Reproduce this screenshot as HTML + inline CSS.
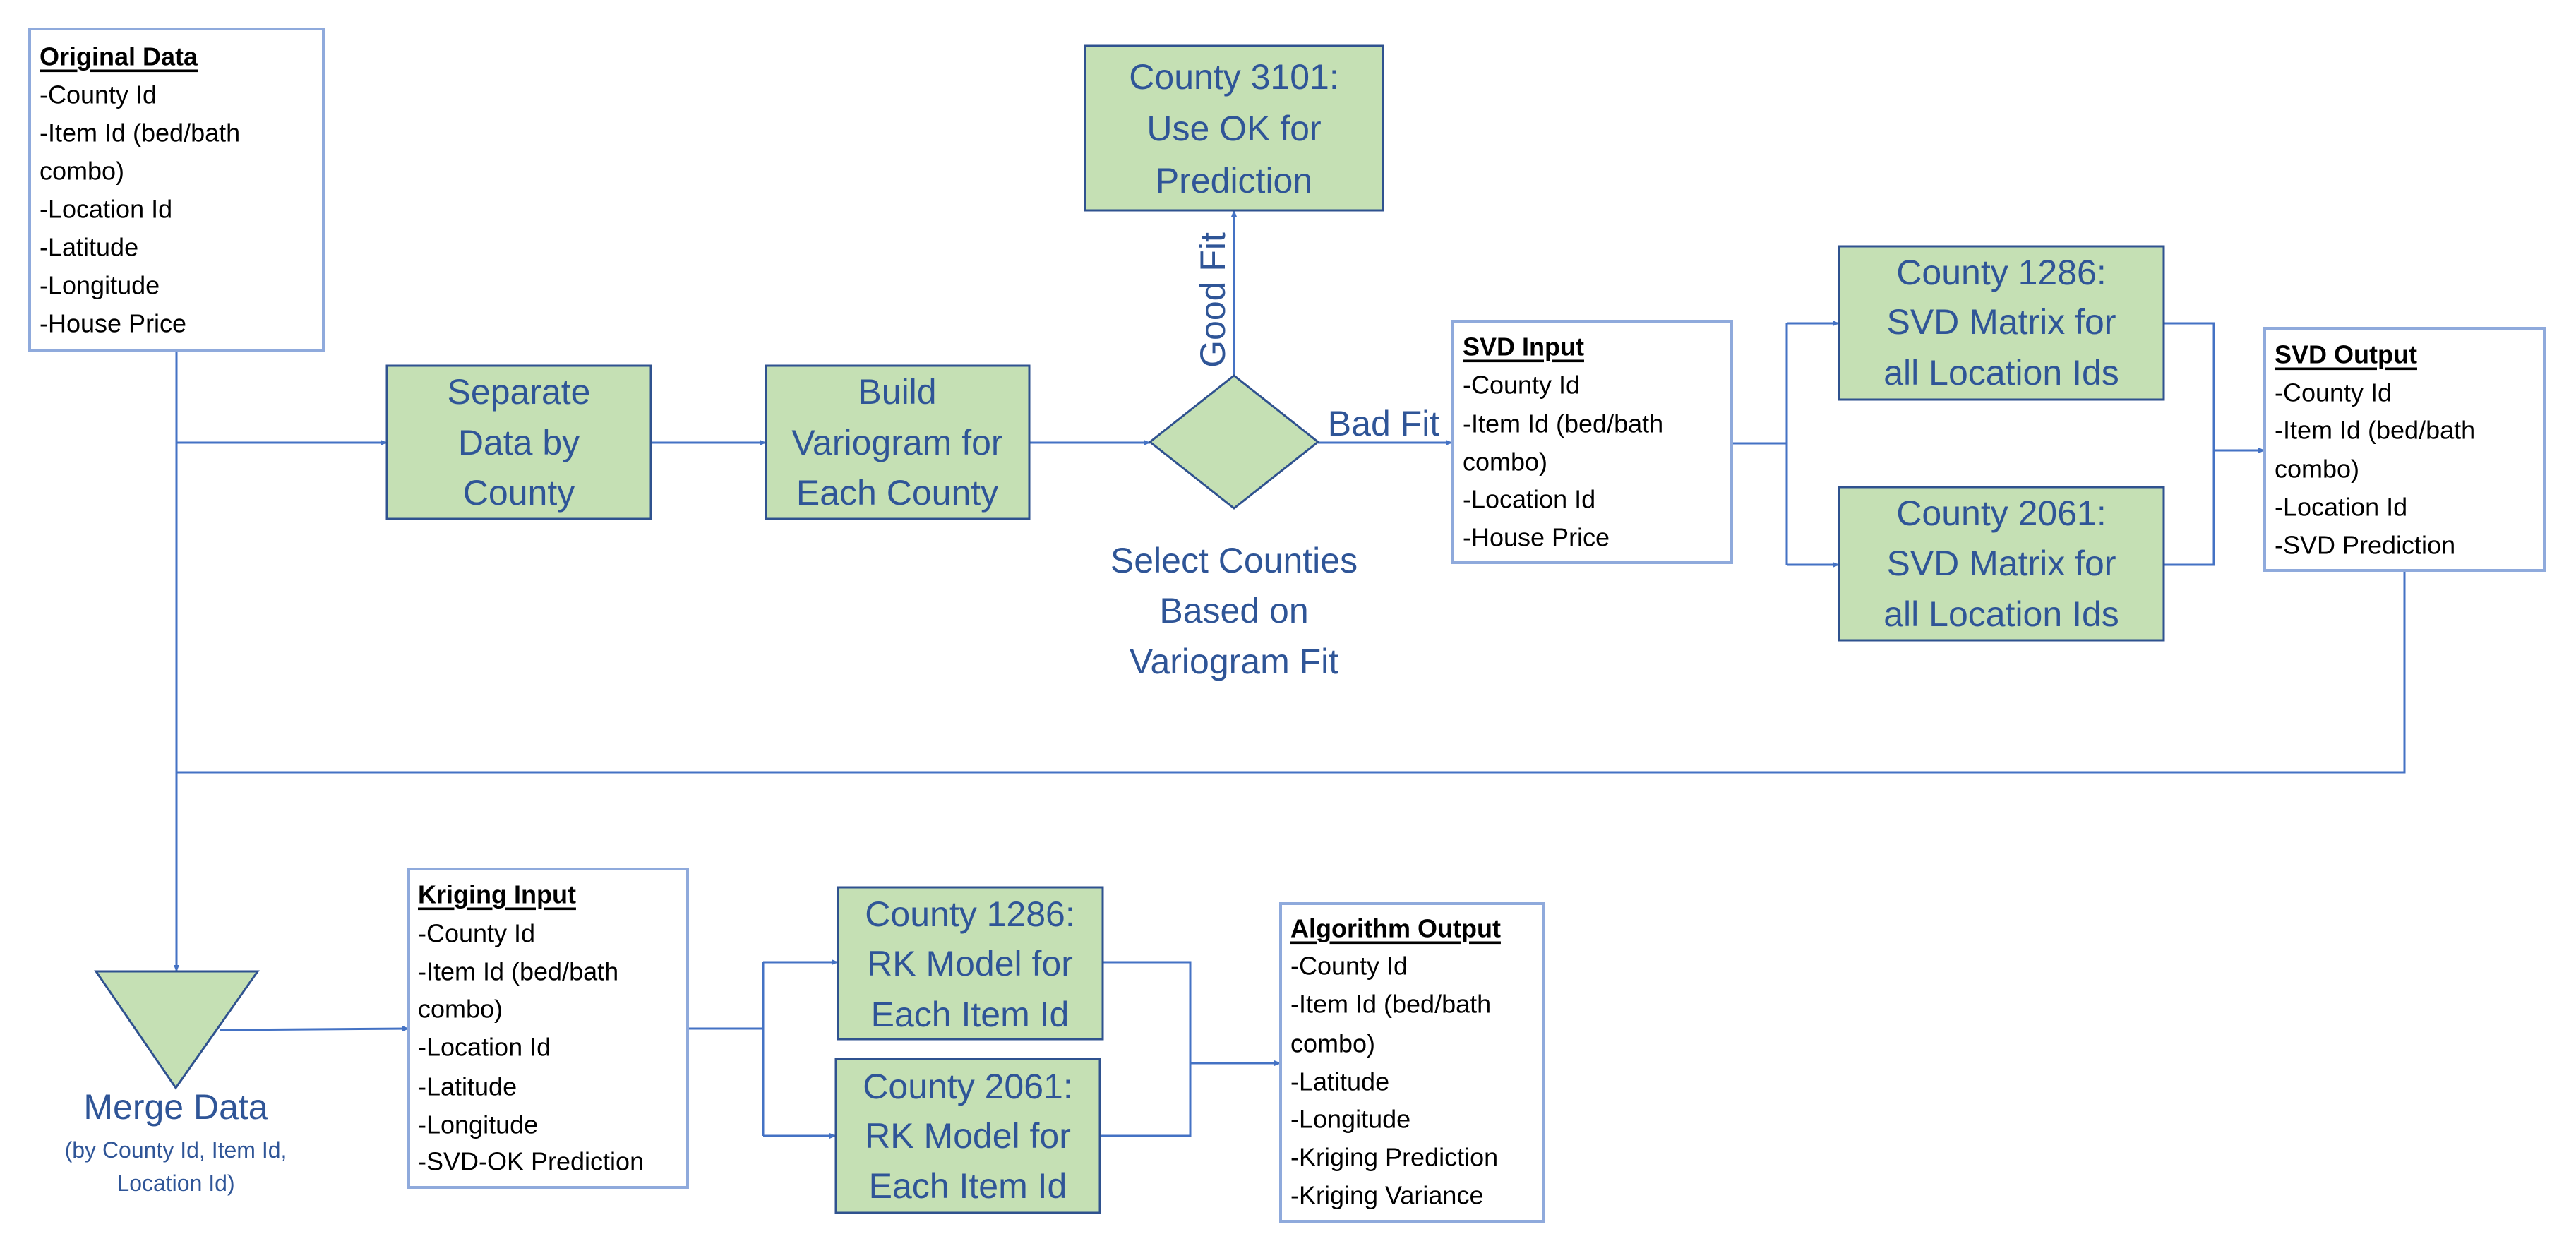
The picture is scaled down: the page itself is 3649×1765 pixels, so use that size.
<!DOCTYPE html>
<html><head><meta charset="utf-8"><style>
html,body{margin:0;padding:0;background:#fff;}
svg{display:block;}
text{font-family:"Liberation Sans",sans-serif;}
.g{fill:#2f5597;font-size:50px;text-anchor:middle;dominant-baseline:central;}
.l{fill:#000;font-size:36px;dominant-baseline:central;}
.h{fill:#000;font-size:36px;font-weight:bold;text-decoration:underline;dominant-baseline:central;}
</style></head><body>
<svg width="3649" height="1765" viewBox="0 0 3649 1765" xmlns="http://www.w3.org/2000/svg">
<defs><marker id="a" markerWidth="10" markerHeight="10" refX="9" refY="5" orient="auto" markerUnits="userSpaceOnUse"><path d="M0,1 L10,5 L0,9 z" fill="#4472c4"/></marker></defs>
<g stroke="#4472c4" stroke-width="3" fill="none">
<polyline points="250,496 250,1094 3406,1094 3406,808"/>
<line x1="250" y1="1094" x2="250" y2="1376" marker-end="url(#a)"/>
<line x1="250" y1="627" x2="548" y2="627" marker-end="url(#a)"/>
<line x1="922" y1="627" x2="1085" y2="627" marker-end="url(#a)"/>
<line x1="1458" y1="627" x2="1629" y2="627" marker-end="url(#a)"/>
<line x1="1748" y1="532" x2="1748" y2="298" marker-end="url(#a)"/>
<line x1="1867" y1="627" x2="2057" y2="627" marker-end="url(#a)"/>
<polyline points="2453,628 2531,628"/>
<polyline points="2531,458 2531,800"/>
<line x1="2531" y1="458" x2="2605" y2="458" marker-end="url(#a)"/>
<line x1="2531" y1="800" x2="2605" y2="800" marker-end="url(#a)"/>
<polyline points="3065,458 3136,458 3136,800 3065,800"/>
<line x1="3136" y1="638" x2="3208" y2="638" marker-end="url(#a)"/>
<line x1="312" y1="1459" x2="579" y2="1457" marker-end="url(#a)"/>
<polyline points="974,1457 1081,1457"/>
<polyline points="1081,1363 1081,1609"/>
<line x1="1081" y1="1363" x2="1187" y2="1363" marker-end="url(#a)"/>
<line x1="1081" y1="1609" x2="1184" y2="1609" marker-end="url(#a)"/>
<polyline points="1562,1363 1686,1363 1686,1609 1558,1609"/>
<line x1="1686" y1="1506" x2="1814" y2="1506" marker-end="url(#a)"/>
</g>
<g fill="#fff" stroke="#8faadc" stroke-width="4">
<rect x="42" y="41" width="416" height="455"/>
<rect x="2057" y="455" width="396" height="342"/>
<rect x="3208" y="465" width="396" height="343"/>
<rect x="579" y="1231" width="395" height="451"/>
<rect x="1814" y="1280" width="372" height="450"/>
</g>
<g fill="#c5e0b4" stroke="#2f528f" stroke-width="3">
<rect x="548" y="518" width="374" height="217"/>
<rect x="1085" y="518" width="373" height="217"/>
<rect x="1537" y="65" width="422" height="233"/>
<polygon points="1629,626 1748,532 1867,626 1748,720"/>
<rect x="2605" y="349" width="460" height="217"/>
<rect x="2605" y="690" width="460" height="217"/>
<polygon points="136,1376 365,1376 249,1541"/>
<rect x="1187" y="1257" width="375" height="215"/>
<rect x="1184" y="1500" width="374" height="218"/>
</g>
<g class="g">
<text x="735" y="555">Separate</text><text x="735" y="627">Data by</text><text x="735" y="698">County</text>
<text x="1271" y="555">Build</text><text x="1271" y="627">Variogram for</text><text x="1271" y="698">Each County</text>
<text x="1748" y="109">County 3101:</text><text x="1748" y="182">Use OK for</text><text x="1748" y="256">Prediction</text>
<text x="1748" y="794">Select Counties</text><text x="1748" y="865">Based on</text><text x="1748" y="937">Variogram Fit</text>
<text x="1960" y="600">Bad Fit</text>
<text x="1718" y="425" transform="rotate(-90 1718 425)">Good Fit</text>
<text x="2835" y="386">County 1286:</text><text x="2835" y="456">SVD Matrix for</text><text x="2835" y="528">all Location Ids</text>
<text x="2835" y="727">County 2061:</text><text x="2835" y="798">SVD Matrix for</text><text x="2835" y="870">all Location Ids</text>
<text x="1374" y="1295">County 1286:</text><text x="1374" y="1365">RK Model for</text><text x="1374" y="1437">Each Item Id</text>
<text x="1371" y="1539">County 2061:</text><text x="1371" y="1609">RK Model for</text><text x="1371" y="1680">Each Item Id</text>
<text x="249" y="1568">Merge Data</text>
<text x="249" y="1629" style="font-size:32px">(by County Id, Item Id,</text>
<text x="249" y="1676" style="font-size:32px">Location Id)</text>
</g>
<g>
<text class="h" x="56" y="80">Original Data</text>
<text class="l" x="56" y="134">-County Id</text><text class="l" x="56" y="188">-Item Id (bed/bath</text><text class="l" x="56" y="242">combo)</text><text class="l" x="56" y="296">-Location Id</text><text class="l" x="56" y="350">-Latitude</text><text class="l" x="56" y="404">-Longitude</text><text class="l" x="56" y="458">-House Price</text>
<text class="h" x="2072" y="491">SVD Input</text>
<text class="l" x="2072" y="545">-County Id</text><text class="l" x="2072" y="600">-Item Id (bed/bath</text><text class="l" x="2072" y="654">combo)</text><text class="l" x="2072" y="707">-Location Id</text><text class="l" x="2072" y="761">-House Price</text>
<text class="h" x="3222" y="502">SVD Output</text>
<text class="l" x="3222" y="556">-County Id</text><text class="l" x="3222" y="609">-Item Id (bed/bath</text><text class="l" x="3222" y="664">combo)</text><text class="l" x="3222" y="718">-Location Id</text><text class="l" x="3222" y="772">-SVD Prediction</text>
<text class="h" x="592" y="1267">Kriging Input</text>
<text class="l" x="592" y="1322">-County Id</text><text class="l" x="592" y="1376">-Item Id (bed/bath</text><text class="l" x="592" y="1429">combo)</text><text class="l" x="592" y="1483">-Location Id</text><text class="l" x="592" y="1539">-Latitude</text><text class="l" x="592" y="1593">-Longitude</text><text class="l" x="592" y="1645">-SVD-OK Prediction</text>
<text class="h" x="1828" y="1315">Algorithm Output</text>
<text class="l" x="1828" y="1368">-County Id</text><text class="l" x="1828" y="1422">-Item Id (bed/bath</text><text class="l" x="1828" y="1478">combo)</text><text class="l" x="1828" y="1532">-Latitude</text><text class="l" x="1828" y="1585">-Longitude</text><text class="l" x="1828" y="1639">-Kriging Prediction</text><text class="l" x="1828" y="1693">-Kriging Variance</text>
</g>
</svg>
</body></html>
